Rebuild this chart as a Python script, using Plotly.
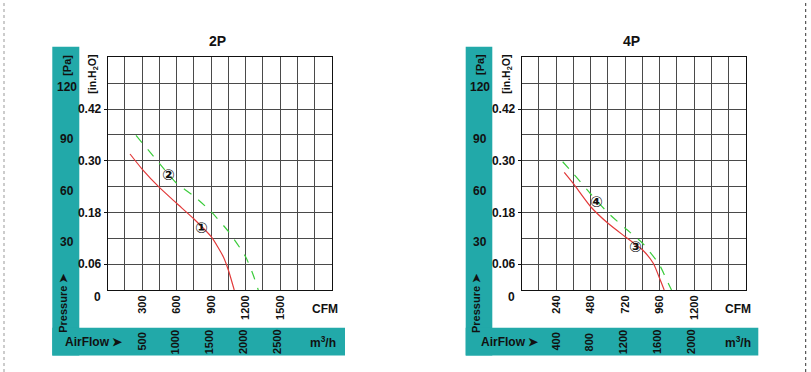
import plotly.graph_objects as go

W, H = 811, 372

# ---------------- data ----------------
# 2P chart (x in CFM, y in Pa)
cfm_2p_1 = [194, 301, 449, 599, 750, 900, 1005, 1051, 1100]
pa_2p_1 = [78.9, 70.0, 59.5, 50.3, 41.2, 30.9, 19.3, 11.2, 0]
cfm_2p_2 = [246, 449, 599, 750, 900, 1051, 1199, 1265, 1309]
pa_2p_2 = [89.7, 73.5, 61.9, 54.5, 45.4, 33.8, 19.3, 8.7, 0]

# 4P chart
cfm_4p_3 = [296, 361, 480, 600, 720, 841, 915, 959, 991]
pa_4p_3 = [68.2, 61.5, 48.3, 38.7, 30.9, 23.2, 15.5, 6.8, 0]
cfm_4p_4 = [285, 361, 480, 600, 720, 841, 959, 1003, 1042]
pa_4p_4 = [74.4, 67.3, 55.7, 44.8, 35.8, 27.1, 14.5, 6.8, 0]

# tick labels
pa_ticks = [30, 60, 90, 120]
inh2o_vals = [15, 45, 75, 105]          # positions in Pa
inh2o_text = ["0.06", "0.18", "0.30", "0.42"]
cfm_vals_2p = [300, 600, 900, 1200, 1500]
cfm_vals_4p = [240, 480, 720, 960, 1200]
m3h_2p = [500, 1000, 1500, 2000, 2500]
m3h_4p = [400, 800, 1200, 1600, 2000]
M3H_TO_CFM = 0.588578

TEAL = "#22a9a9"
RED = "#e23a3a"
GREEN = "#3ccc3c"
FONT = "Liberation Sans, Arial, sans-serif"
INK = "#111"
GRID = "#4a4a4a"

def px(x):
    return x / W

def py(y):
    return 1 - y / H

charts = [
    dict(title="2P", xa="x", ya="y", left=107.7, right=332.0, bar_l=52.3, bar_r=79.3,
         hbar_r=345.0, xmax=1950, xstep=150, vals=cfm_vals_2p, m3h=m3h_2p,
         curves=[(cfm_2p_1, pa_2p_1, RED, "solid"), (cfm_2p_2, pa_2p_2, GREEN, "dash")],
         labels=[("①", 817, 36), ("②", 527, 67)], airflow_x=94, m3h_x=323, cfm_x=325),
    dict(title="4P", xa="x2", ya="y2", left=521.7, right=746.0, bar_l=465.7, bar_r=492.3,
         hbar_r=758.3, xmax=1560, xstep=120, vals=cfm_vals_4p, m3h=m3h_4p,
         curves=[(cfm_4p_3, pa_4p_3, RED, "solid"), (cfm_4p_4, pa_4p_4, GREEN, "dash")],
         labels=[("③", 788, 25), ("④", 517, 51)], airflow_x=510, m3h_x=738, cfm_x=738),
]

fig = go.Figure()
shapes = []
ann = []
TOP, BOT = 57.3, 290.0


def add_ann(**kw):
    kw.setdefault("showarrow", False)
    kw.setdefault("xanchor", "center")
    kw.setdefault("yanchor", "middle")
    ann.append(kw)


for i, c in enumerate(charts):
    for xs, ys, col, dash in c["curves"]:
        fig.add_trace(go.Scatter(x=xs, y=ys, mode="lines", xaxis=c["xa"], yaxis=c["ya"],
                                 line=dict(color=col, width=1.2, dash=dash, shape="spline", smoothing=0.6),
                                 showlegend=False, hoverinfo="skip"))
    for t, xv, yv in c["labels"]:
        add_ann(text="<b>%s</b>" % t, x=xv, y=yv, xref=c["xa"], yref=c["ya"],
                font=dict(family="DejaVu Sans", size=15, color=INK))
    sfx = "" if i == 0 else "2"
    axis_common = dict(showline=True, linecolor=INK, linewidth=1, mirror=True,
                       showgrid=True, gridcolor=GRID, gridwidth=1, zeroline=False,
                       fixedrange=True, automargin=False)
    fig.layout["xaxis" + sfx] = dict(axis_common, domain=[px(c["left"]), px(c["right"])],
                                     range=[0, c["xmax"]], tickmode="array", tickvals=c["vals"],
                                     ticktext=["<b>%d</b>" % v for v in c["vals"]],
                                     tickangle=-90, anchor="y" + sfx,
                                     minor=dict(tick0=0, dtick=c["xstep"], showgrid=True,
                                                gridcolor=GRID, gridwidth=1),
                                     tickfont=dict(family=FONT, size=11, color=INK))
    fig.layout["yaxis" + sfx] = dict(axis_common, domain=[py(BOT), py(TOP)],
                                     range=[0, 135], tickmode="array", tickvals=inh2o_vals,
                                     ticktext=["<b>%s</b>" % t for t in inh2o_text],
                                     ticks="outside", ticklen=3,
                                     tickcolor=INK, anchor="x" + sfx,
                                     minor=dict(tick0=0, dtick=15, showgrid=True,
                                                gridcolor=GRID, gridwidth=1),
                                     tickfont=dict(family=FONT, size=12, color=INK))
    # teal L bars
    shapes.append(dict(type="rect", xref="paper", yref="paper", x0=px(c["bar_l"]), x1=px(c["bar_r"]),
                       y0=py(355.5), y1=py(46.7), fillcolor=TEAL, line=dict(width=0), layer="below"))
    shapes.append(dict(type="rect", xref="paper", yref="paper", x0=px(c["bar_l"]), x1=px(c["hbar_r"]),
                       y0=py(355.5), y1=py(327.7), fillcolor=TEAL, line=dict(width=0), layer="below"))
    mid = (c["bar_l"] + c["bar_r"]) / 2
    # Pa labels
    for v in pa_ticks:
        add_ann(text="<b>%d</b>" % v, x=px(mid + 1), y=v, xref="paper", yref=c["ya"], yshift=-4,
                font=dict(family=FONT, size=12, color=INK))
    add_ann(text="<b>[Pa]</b>", x=px(mid + 1), y=py(65), xref="paper", yref="paper",
            textangle=-90, font=dict(family=FONT, size=11, color=INK))
    add_ann(text="<b>Pressure ➤</b>", x=px(mid - 3), y=py(303), xref="paper", yref="paper",
            textangle=-90, font=dict(family=FONT, size=11, color=INK))
    add_ann(text="<b>[in.H<sub>2</sub>O]</b>", x=px(c["left"] - 15), y=py(74), xref="paper",
            yref="paper", textangle=-90, font=dict(family=FONT, size=10.5, color=INK))
    add_ann(text="<b>0</b>", x=px(c["left"] - 10), y=py(297), xref="paper", yref="paper",
            font=dict(family=FONT, size=12, color=INK))
    add_ann(text="<b>%s</b>" % c["title"], x=(px(c["left"]) + px(c["right"])) / 2 - 0.003,
            y=py(41), xref="paper", yref="paper", font=dict(family=FONT, size=14, color=INK))
    add_ann(text="<b>CFM</b>", x=px(c["cfm_x"]), y=py(309), xref="paper", yref="paper",
            font=dict(family=FONT, size=12, color=INK))
    add_ann(text="<b>AirFlow ➤</b>", x=px(c["airflow_x"]), y=py(342), xref="paper",
            yref="paper", font=dict(family=FONT, size=12, color=INK))
    add_ann(text="<b>m<sup>3</sup>/h</b>", x=px(c["m3h_x"]), y=py(342), xref="paper",
            yref="paper", font=dict(family=FONT, size=12, color=INK))
    for v in c["m3h"]:
        add_ann(text="<b>%d</b>" % v, x=v * M3H_TO_CFM, y=py(342), xref=c["xa"], yref="paper",
                textangle=-90, font=dict(family=FONT, size=11, color=INK))

# dashed page edges
shapes.append(dict(type="line", xref="paper", yref="paper", x0=px(4), x1=px(4), y0=0, y1=1,
                   line=dict(color="#999", width=1, dash="dot")))
shapes.append(dict(type="line", xref="paper", yref="paper", x0=px(805.7), x1=px(805.7), y0=0, y1=1,
                   line=dict(color="#333", width=1, dash="dot")))

fig.update_layout(width=W, height=H, margin=dict(l=0, r=0, t=0, b=0, pad=0),
                  paper_bgcolor="white", plot_bgcolor="white",
                  font=dict(family=FONT, color=INK), shapes=shapes, annotations=ann)

fig.write_html("out.html", config={"displayModeBar": False},
               post_script="document.body.style.margin='0';document.body.style.overflow='hidden';")
